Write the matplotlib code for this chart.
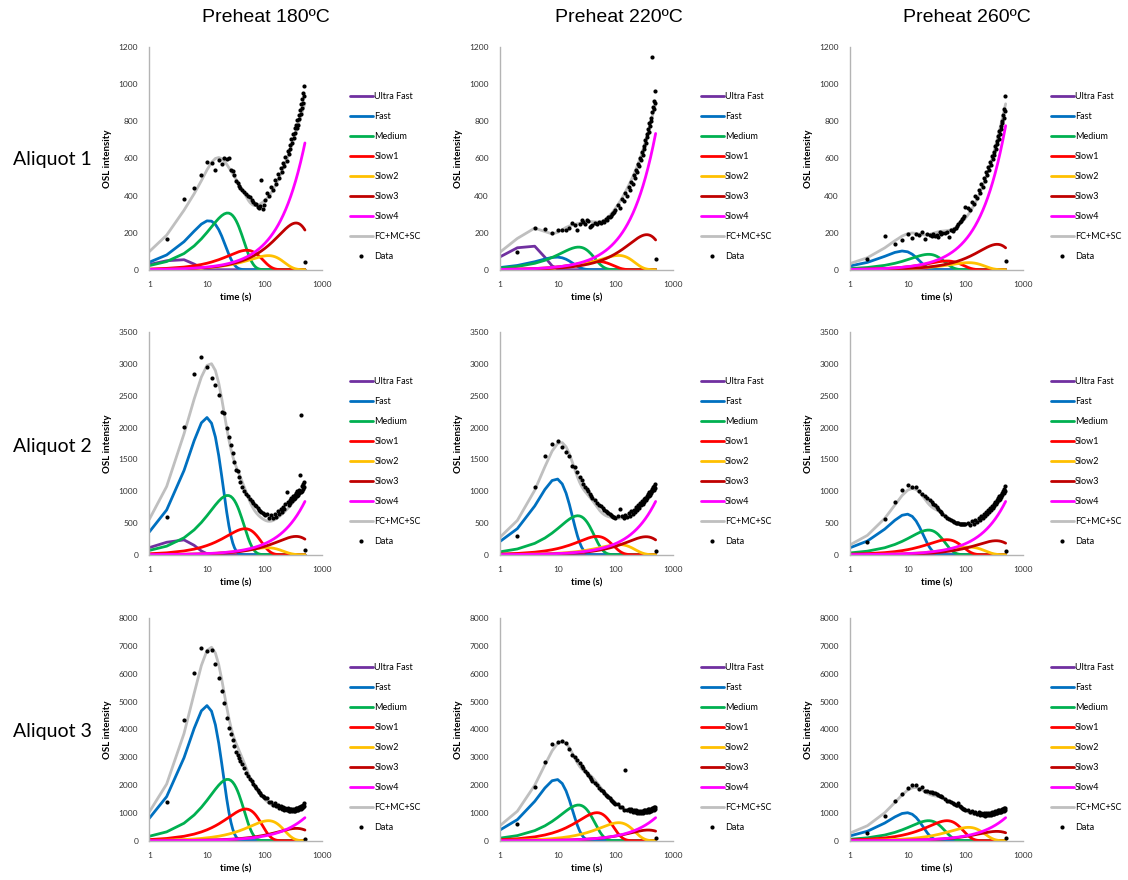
import numpy as np
import matplotlib
matplotlib.use("Agg")
import matplotlib.pyplot as plt
from matplotlib.ticker import NullLocator

# ---------------- data ----------------
components = ["Ultra Fast", "Fast", "Medium", "Slow1", "Slow2", "Slow3", "Slow4"]
sum_label = "FC+MC+SC"
data_label = "Data"
comp_colors = ["#7030A0", "#0070C0", "#00B050", "#FF0000", "#FFC000", "#C00000", "#FF00FF"]
sum_color = "#BFBFBF"

preheats = ["Preheat 180ºC", "Preheat 220ºC", "Preheat 260ºC"]
aliquots = ["Aliquot 1", "Aliquot 2", "Aliquot 3"]
y_max = [1200, 3500, 8000]
y_step = [200, 500, 1000]
x_ticks = [1, 10, 100, 1000]

# fitted LM-OSL components: peak time (s) and peak intensity, order as `components`
peak_time = {
    (0, 0): [3.2, 10.8, 22.8, 48.7, 116, 350, 2000],
    (0, 1): [3.1, 9.6, 23.0, 48.0, 114, 350, 2000],
    (0, 2): [3.0, 8.2, 23.0, 48.0, 114, 355, 2000],
    (1, 0): [3.4, 9.9, 22.8, 45.6, 110, 350, 2000],
    (1, 1): [3.0, 9.4, 22.3, 48.0, 115, 340, 2000],
    (1, 2): [3.0, 9.6, 23.0, 48.0, 115, 340, 2000],
    (2, 0): [3.0, 9.9, 22.8, 47.0, 116, 355, 2000],
    (2, 1): [3.0, 9.4, 23.0, 48.0, 114, 370, 2000],
    (2, 2): [3.0, 9.6, 23.0, 48.0, 114, 350, 2000],
}
peak_height = {
    (0, 0): [57, 265, 306, 105, 76, 252, 1712],
    (0, 1): [137, 68, 122, 45, 77, 189, 1840],
    (0, 2): [5, 101, 83, 47, 38, 137, 1945],
    (1, 0): [240, 2159, 933, 409, 110, 288, 2098],
    (1, 1): [10, 1195, 613, 288, 160, 283, 2098],
    (1, 2): [10, 639, 388, 236, 120, 220, 2098],
    (2, 0): [30, 4860, 2208, 1140, 720, 444, 2073],
    (2, 1): [30, 2208, 1284, 1008, 648, 384, 2073],
    (2, 2): [30, 1008, 720, 720, 480, 336, 2073],
}

# measured data (time in s)
t_data = np.concatenate([np.arange(2, 41, 2), np.arange(44, 101, 4),
                         np.arange(110, 491, 10), [500]])
t_curve = np.concatenate([[1], np.arange(2, 501, 2)])

data = {
    (0, 0): [165, 380, 440, 510, 580, 575, 540, 590, 570, 605, 595, 600, 540, 535, 510, 480, 470, 450, 440, 430,
             420, 408, 400, 390, 375, 365, 355, 352, 340, 335, 345, 483, 330, 350, 375,
             413, 397, 448, 428, 483, 462, 518, 497, 548, 527, 578, 557, 608, 587, 638, 622, 673, 652, 703, 682,
             733, 712, 763, 737, 783, 762, 808, 782, 833, 812, 863, 842, 893, 872, 923, 902, 953, 937, 993,
             40],
    (0, 1): [95, 225, 222, 200, 215, 215, 215, 225, 250, 240, 212, 245, 270, 255, 245, 270, 265, 232, 236, 240,
             250, 245, 258, 250, 265, 258, 272, 270, 282, 285, 292, 300, 305, 312, 322,
             350, 335, 380, 370, 415, 400, 445, 430, 475, 463, 510, 495, 540, 525, 570, 557, 605, 590, 635, 620,
             665, 652, 698, 685, 730, 715, 760, 745, 790, 775, 820, 805, 850, 1150, 880, 865, 910, 900, 965,
             60],
    (0, 2): [56, 182, 140, 158, 190, 170, 190, 185, 203, 165, 190, 185, 180, 190, 180, 185, 175, 205, 195, 200,
             200, 205, 178, 212, 210, 222, 225, 238, 245, 255, 262, 272, 280, 290, 339,
             333, 320, 365, 353, 400, 385, 430, 415, 460, 445, 493, 480, 525, 510, 555, 540, 583, 567, 612, 595,
             637, 621, 665, 650, 695, 680, 722, 705, 750, 733, 777, 761, 805, 790, 835, 821, 867, 857, 935,
             48],
    (1, 0): [587, 2002, 2845, 3118, 2960, 2777, 2672, 2515, 2253, 2237, 2000, 1860, 1720, 1600, 1460, 1340, 1320,
             1230, 1150, 1060,
             1010, 960, 920, 880, 840, 810, 780, 760, 735, 710, 690, 670, 655, 640, 628,
             645, 575, 630, 575, 645, 600, 680, 640, 720, 675, 755, 715, 795, 990, 830, 785, 860, 815, 890, 845,
             920, 875, 945, 900, 970, 925, 995, 945, 1015, 970, 1250, 990, 2200, 1010, 1085, 1035, 1105, 1060, 1140,
             73],
    (1, 1): [299, 1064, 1556, 1745, 1782, 1698, 1609, 1550, 1400, 1380, 1300, 1220, 1180, 1120, 1060, 1030, 1000,
             960, 920, 900,
             860, 820, 790, 760, 730, 705, 685, 665, 650, 635, 620, 605, 595, 590, 585,
             605, 720, 610, 570, 630, 590, 650, 615, 680, 645, 710, 675, 745, 710, 775, 740, 810, 775, 840, 805,
             870, 835, 900, 865, 930, 890, 955, 920, 980, 940, 1005, 970, 1030, 995, 1060, 1020, 1085, 1050, 1120,
             60],
    (1, 2): [194, 566, 828, 1011, 1100, 1058, 1060, 995, 954, 920, 890, 860, 830, 800, 775, 745, 715, 690, 665, 640,
             610, 580, 560, 540, 525, 515, 505, 500, 495, 490, 485, 485, 480, 480, 480,
             505, 463, 523, 485, 547, 510, 575, 540, 605, 573, 637, 603, 670, 635, 703, 670, 737, 703, 770, 735,
             800, 765, 830, 795, 860, 825, 890, 855, 920, 883, 947, 911, 975, 940, 1005, 970, 1035, 1000, 1080,
             60],
    (2, 0): [1380, 4344, 6048, 6948, 6840, 6850, 6348, 5844, 5400, 4944, 4428, 4050, 3850, 3620, 3420, 3200, 3080,
             2960, 2860, 2760,
             2600, 2450, 2330, 2230, 2150, 2050, 1960, 1890, 1820, 1760, 1700, 1650, 1610, 1580, 1540,
             1520, 1380, 1410, 1300, 1350, 1240, 1290, 1180, 1240, 1140, 1200, 1110, 1180, 1090, 1160, 1070, 1145,
             1060, 1140, 1060, 1145, 1070, 1155, 1080, 1165, 1090, 1180, 1110, 1200, 1130, 1220, 1150, 1240, 1170,
             1260, 1200, 1300, 1240, 1340,
             50],
    (2, 1): [588, 1944, 2844, 3468, 3564, 3600, 3504, 3288, 3100, 3024, 2900, 2800, 2700, 2600, 2500, 2420, 2350,
             2280, 2220, 2160,
             2080, 1990, 1910, 1840, 1770, 1700, 1650, 1600, 1560, 1520, 1480, 1440, 1400, 1360, 1320,
             1320, 1200, 1230, 1120, 2540, 1090, 1150, 1060, 1130, 1040, 1110, 1020, 1090, 1005, 1080, 1000, 1080,
             1000, 1085, 1005, 1090, 1015, 1100, 1025, 1110, 1040, 1125, 1050, 1140, 1065, 1150, 1080, 1170, 1100,
             1190, 1120, 1210, 1140, 1230,
             80],
    (2, 2): [288, 888, 1440, 1668, 1908, 1992, 1992, 1872, 1944, 1788, 1780, 1760, 1740, 1720, 1700, 1680, 1650,
             1620, 1600, 1580,
             1500, 1420, 1440, 1400, 1350, 1330, 1300, 1280, 1370, 1240, 1200, 1170, 1150, 1130, 1110,
             1120, 1020, 1080, 990, 1050, 950, 1015, 920, 995, 910, 985, 905, 985, 910, 995, 920, 1010, 935, 1025,
             950, 1040, 970, 1055, 985, 1070, 1000, 1090, 1015, 1105, 1030, 1120, 1045, 1135, 1060, 1150, 1075,
             1165, 1095, 1190,
             80],
}


def lm_osl(t, tmax, height):
    """First-order LM-OSL component defined by its peak time and peak height."""
    r = t / tmax
    return height * r * np.exp(0.5 * (1.0 - r ** 2))


# ---------------- layout ----------------
W, H = 1128, 880
ax_left = [149.3, 500.0, 850.0]
ax_top = [47.3, 332.3, 618.3]
ax_w, ax_h = 173.0, 222.4
title_x = [266, 619, 967]
row_label_y = [159, 446, 732]

plt.rcParams["font.family"] = ["Lato", "DejaVu Sans"]

fig = plt.figure(figsize=(W / 100, H / 100), dpi=100)
fig.patch.set_facecolor("white")

for r in range(3):
    for c in range(3):
        ax = fig.add_axes([ax_left[c] / W, 1 - (ax_top[r] + ax_h) / H, ax_w / W, ax_h / H])
        handles = []
        total = np.zeros_like(t_curve, dtype=float)
        for k, name in enumerate(components):
            y = lm_osl(t_curve, peak_time[(r, c)][k], peak_height[(r, c)][k])
            total += y
            ln, = ax.plot(t_curve, y, color=comp_colors[k], lw=2.0, solid_capstyle="round",
                          solid_joinstyle="round", label=name)
            handles.append(ln)
        ln, = ax.plot(t_curve, total, color=sum_color, lw=2.0, solid_capstyle="round",
                      solid_joinstyle="round", label=sum_label)
        handles.append(ln)
        ln, = ax.plot(t_data, data[(r, c)], "o", color="black", ms=3.0, mew=0, label=data_label)
        handles.append(ln)

        ax.set_xscale("log")
        ax.set_xlim(1, 1000)
        ax.set_ylim(0, y_max[r])
        ax.set_xticks(x_ticks)
        ax.set_xticklabels([str(v) for v in x_ticks])
        ax.xaxis.set_minor_locator(NullLocator())
        ax.set_yticks(np.arange(0, y_max[r] + 1, y_step[r]))
        ax.tick_params(length=0, labelsize=6, colors="#333333")
        ax.tick_params(axis="y", pad=8)
        ax.tick_params(axis="x", pad=8)
        for s in ["top", "right"]:
            ax.spines[s].set_visible(False)
        for s in ["left", "bottom"]:
            ax.spines[s].set_color("#B4B4B4")
            ax.spines[s].set_linewidth(1.0)
        ax.set_ylabel("OSL intensity", fontsize=7, fontweight="bold", color="black")
        ax.yaxis.set_label_coords(-0.215, 0.5)
        ax.set_xlabel("time (s)", fontsize=7, fontweight="bold", color="black")
        ax.xaxis.set_label_coords(0.5, -0.105)

        ax.legend(handles, [h.get_label() for h in handles], loc="upper left",
                  bbox_to_anchor=(1.160, 0.797), frameon=False, fontsize=6.5,
                  handlelength=2.55, handletextpad=0.15, labelspacing=1.21,
                  borderpad=0, borderaxespad=0, numpoints=1)

for c in range(3):
    fig.text(title_x[c] / W, 1 - 17.5 / H, preheats[c], ha="center", va="center",
             fontsize=14, family="Liberation Sans", color="black")
for r in range(3):
    fig.text(13 / W, 1 - row_label_y[r] / H, aliquots[r], ha="left", va="center",
             fontsize=14, family="Lato", fontweight="normal", color="black")

fig.savefig("out.png", dpi=100, facecolor="white")
